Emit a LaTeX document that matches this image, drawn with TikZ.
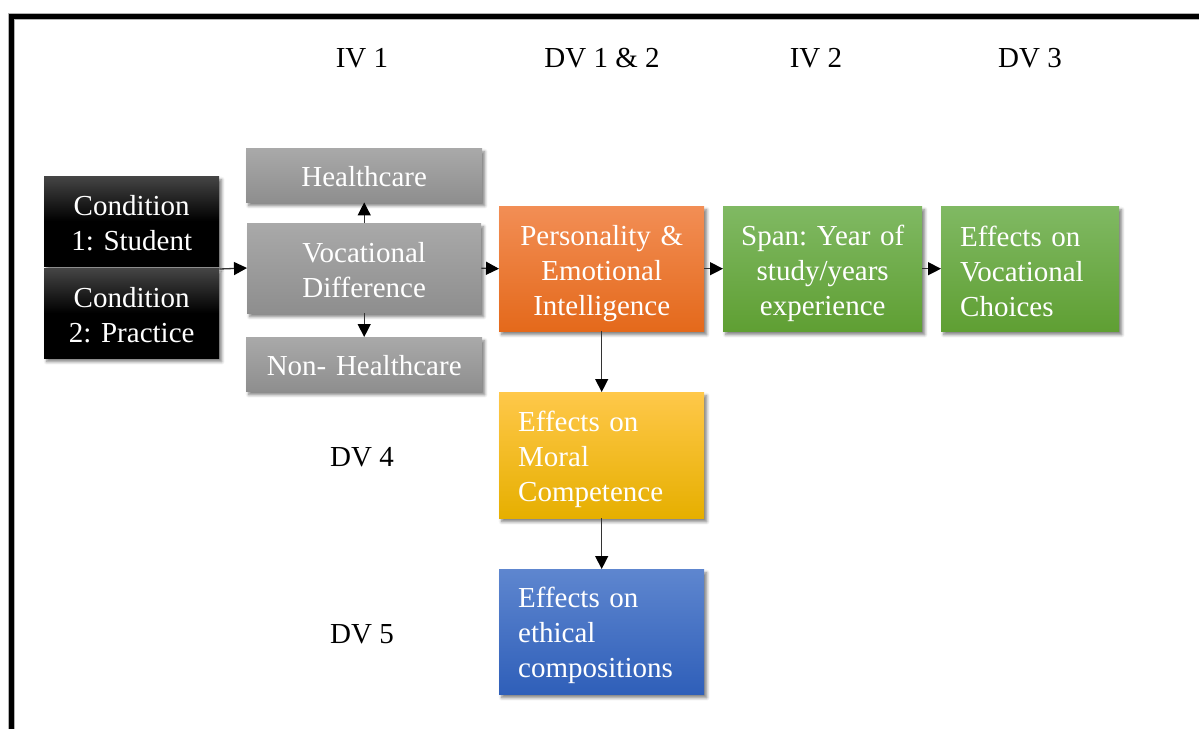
\documentclass[tikz,border=0pt]{standalone}
\usepackage{fontspec}
\setmainfont{Liberation Serif}
\usetikzlibrary{arrows.meta,shadows.blur,calc}
\frenchspacing

\definecolor{orTop}{HTML}{F28E55}
\definecolor{orBot}{HTML}{E4691B}
\definecolor{grTop}{HTML}{80B963}
\definecolor{grBot}{HTML}{5F9F33}
\definecolor{yeTop}{HTML}{FFC84A}
\definecolor{yeMid}{HTML}{FFC000}
\definecolor{yeBot}{HTML}{E6AF00}
\definecolor{blTop}{HTML}{5E86CF}
\definecolor{blBot}{HTML}{2F5FB9}
\definecolor{gyTop}{HTML}{A9A9A9}
\definecolor{gyBot}{HTML}{8E8E8E}
\definecolor{bkTop}{HTML}{454545}

\tikzset{
  x=1pt, y=-1pt,
  txt/.style={font=\fontsize{29}{35}\selectfont},
  head/.style={txt, text=black, inner sep=0pt},
  % shaded box; its text is set as a centred label so it can be nudged vertically
  box/.style={rectangle, anchor=north west, inner sep=0pt,
    blur shadow={shadow xshift=2.5pt, shadow yshift=-3.5pt, shadow blur radius=3pt, shadow opacity=50}},
  cbox/.style n args={4}{box, minimum width=#1, minimum height=#2,
    label={[txt, text=white, inner sep=0pt, text width=#1-12pt, align=center, yshift=-#3]center:{#4}}},
  lbox/.style n args={4}{box, minimum width=#1, minimum height=#2,
    label={[txt, text=white, inner sep=0pt, text width=#1-38pt, align=left, yshift=-#3]center:{#4}}},
  blackfill/.style={top color=bkTop, bottom color=black, middle color=black},
  grayfill/.style={top color=gyTop, bottom color=gyBot},
  orangefill/.style={top color=orTop, bottom color=orBot},
  greenfill/.style={top color=grTop, bottom color=grBot},
  yellowfill/.style={top color=yeTop, middle color=yeMid, bottom color=yeBot},
  bluefill/.style={top color=blTop, bottom color=blBot},
  link/.style={draw=black!80, line width=1.3pt, -{Triangle[length=13pt,width=13pt,color=black]}},
}

\begin{document}
\begin{tikzpicture}
\useasboundingbox (0,0) rectangle (1199,729);

% frame, open to the right and bottom
\draw[black!30, line width=6.5pt] (11.7,729) -- (11.7,16.5) -- (1199,16.5);
\draw[black, line width=5pt] (11.7,729) -- (11.7,16.5) -- (1199,16.5);

% column and row headings
\node[head] (iv1) at (362,58) {IV 1};
\node[head] (dv12) at (602,58) {DV 1 \& 2};
\node[head] (iv2) at (816,58) {IV 2};
\node[head] (dv3) at (1030,58) {DV 3};
\node[head] (dv4) at (362,457) {DV 4};
\node[head] (dv5) at (362,634) {DV 5};

% conditions
\node[cbox={175pt}{90pt}{1.5pt}{Condition\\1: Student}, blackfill] (c1) at (44,176) {};
\node[cbox={175pt}{90pt}{1.5pt}{Condition\\2: Practice}, blackfill] (c2) at (44,268) {};

% vocational field
\node[cbox={236pt}{54pt}{1.5pt}{Healthcare}, grayfill] (hc) at (246,148) {};
\node[cbox={234pt}{90pt}{1.5pt}{Vocational\\Difference}, grayfill] (voc) at (247,223) {};
\node[cbox={236pt}{54pt}{1pt}{Non- Healthcare}, grayfill] (nhc) at (246,337) {};

% outcome chain
\node[cbox={205pt}{125pt}{4.5pt}{Personality \&\\Emotional\\Intelligence}, orangefill] (pers) at (499,206) {};
\node[cbox={199pt}{125pt}{4.5pt}{Span: Year of\\study/years\\experience}, greenfill] (span) at (723,206) {};
\node[lbox={178pt}{125pt}{2.5pt}{Effects on\\Vocational\\Choices}, greenfill] (voch) at (941,206) {};
\node[lbox={205pt}{126pt}{4pt}{Effects on\\Moral\\Competence}, yellowfill] (moral) at (499,392) {};
\node[lbox={205pt}{125pt}{4pt}{Effects on\\ethical\\compositions}, bluefill] (eth) at (499,569) {};

% connectors
\draw[link] (c2.north east) ++(0,1) -- (c2.north east -| voc.west);
\draw[link] (voc.north) -- (hc.south);
\draw[link] (voc.south) -- (nhc.north);
\draw[link] (voc.east) -- (pers.west);
\draw[link] (pers.east) -- (span.west);
\draw[link] (span.east) -- (voch.west);
\draw[link] (pers.south) -- (moral.north);
\draw[link] (moral.south) -- (eth.north);
\end{tikzpicture}
\end{document}
